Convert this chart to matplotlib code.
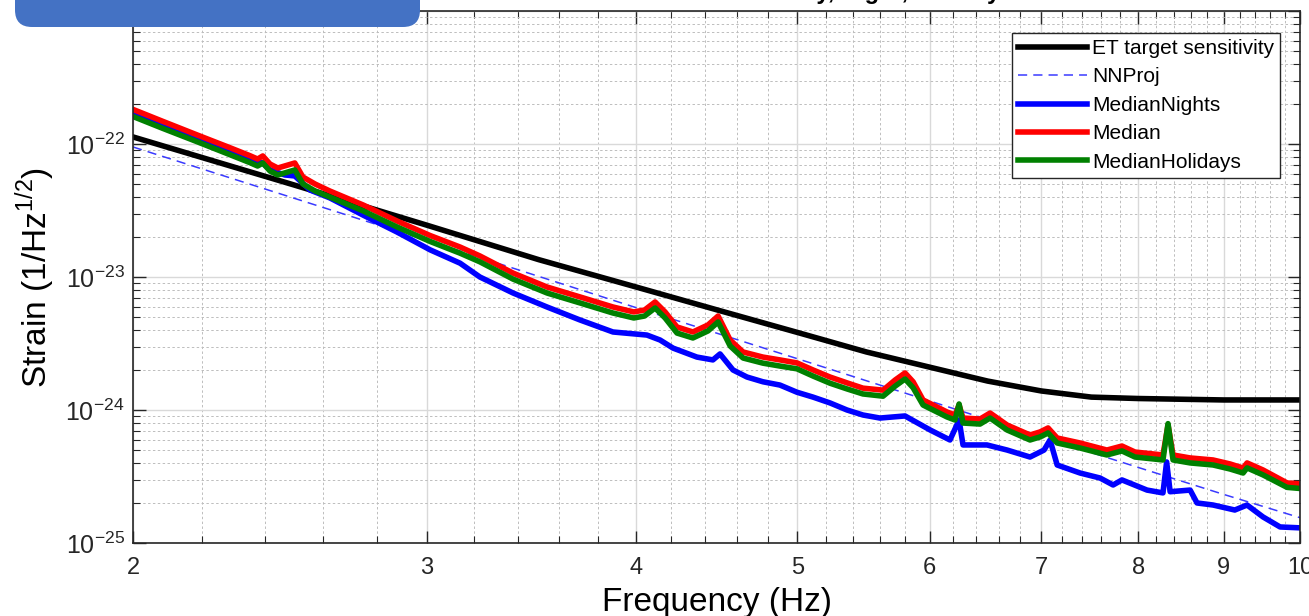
import numpy as np
import matplotlib
matplotlib.use('Agg')
import matplotlib.pyplot as plt
from matplotlib.patches import FancyBboxPatch
from matplotlib.transforms import IdentityTransform
from matplotlib.ticker import FixedLocator, NullFormatter, LogLocator, FuncFormatter

''' Data read from the figure '''
#ET target sensitivity curve
freq_et = [2.0, 2.5, 3.0, 3.5, 4.0, 4.5, 5.0, 5.5, 6.0, 6.5, 7.0, 7.5, 8.0, 9.0, 10.0]
et_target = [1.13e-22, 4.9e-23, 2.45e-23, 1.35e-23, 8.43e-24, 5.55e-24, 3.83e-24, 2.73e-24,
             2.10e-24, 1.65e-24, 1.39e-24, 1.25e-24, 1.22e-24, 1.19e-24, 1.19e-24]

#Newtonian noise projection
freq_nn = [2.0, 3.0, 4.0, 5.0, 6.0, 7.0, 8.0, 9.0, 10.0]
nn_proj = [9.5e-23, 1.88e-23, 5.9e-24, 2.43e-24, 1.17e-24, 6.3e-25, 3.7e-25, 2.32e-25, 1.55e-25]

#Median (all data) and median over holidays share the same frequency points
freq_med = [2.000, 2.084, 2.185, 2.286, 2.350, 2.375, 2.392, 2.416, 2.442, 2.500, 2.528,
            2.571, 2.624, 2.747, 2.878, 3.013, 3.140, 3.227, 3.378, 3.540, 3.705, 3.877,
            3.990, 4.050, 4.109, 4.166, 4.235, 4.329, 4.420, 4.482, 4.557, 4.639, 4.768,
            4.881, 4.997, 5.109, 5.230, 5.354, 5.473, 5.627, 5.721, 5.800, 5.865, 5.946,
            6.146, 6.214, 6.249, 6.283, 6.432, 6.522, 6.677, 6.891, 6.987, 7.065, 7.154,
            7.383, 7.662, 7.823, 7.965, 8.278, 8.336, 8.394, 8.594, 8.870, 9.080, 9.245,
            9.296, 9.503, 9.823, 10.00]
median = [1.82e-22, 1.48e-22, 1.17e-22, 9.38e-23, 8.17e-23, 7.71e-23, 8.13e-23, 7.07e-23,
          6.60e-23, 7.20e-23, 5.65e-23, 5.00e-23, 4.43e-23, 3.48e-23, 2.64e-23, 2.05e-23,
          1.68e-23, 1.44e-23, 1.07e-23, 8.41e-24, 7.08e-24, 5.95e-24, 5.46e-24, 5.65e-24,
          6.49e-24, 5.46e-24, 4.21e-24, 3.86e-24, 4.36e-24, 5.09e-24, 3.36e-24, 2.73e-24,
          2.50e-24, 2.38e-24, 2.26e-24, 2.00e-24, 1.77e-24, 1.60e-24, 1.46e-24, 1.41e-24,
          1.68e-24, 1.90e-24, 1.63e-24, 1.19e-24, 9.66e-25, 9.17e-25, 1.09e-24, 8.70e-25,
          8.55e-25, 9.49e-25, 7.71e-25, 6.49e-25, 6.84e-25, 7.33e-25, 6.16e-25, 5.65e-25,
          5.00e-25, 5.36e-25, 4.83e-25, 4.59e-25, 7.70e-25, 4.59e-25, 4.36e-25, 4.21e-25,
          3.93e-25, 3.66e-25, 4.00e-25, 3.54e-25, 2.83e-25, 2.78e-25]
median_holidays = [1.61e-22, 1.31e-22, 1.04e-22, 8.31e-23, 7.24e-23, 6.83e-23, 7.20e-23, 6.26e-23,
                   5.85e-23, 6.38e-23, 5.01e-23, 4.43e-23, 3.99e-23, 3.14e-23, 2.38e-23, 1.85e-23,
                   1.51e-23, 1.30e-23, 9.64e-24, 7.58e-24, 6.38e-24, 5.36e-24, 4.92e-24, 5.09e-24,
                   5.85e-24, 4.92e-24, 3.79e-24, 3.48e-24, 3.93e-24, 4.59e-24, 3.03e-24, 2.46e-24,
                   2.25e-24, 2.14e-24, 2.04e-24, 1.80e-24, 1.59e-24, 1.44e-24, 1.32e-24, 1.27e-24,
                   1.51e-24, 1.71e-24, 1.47e-24, 1.09e-24, 8.86e-25, 8.41e-25, 1.11e-24, 7.98e-25,
                   7.84e-25, 8.70e-25, 7.07e-25, 5.95e-25, 6.27e-25, 6.72e-25, 5.65e-25, 5.18e-25,
                   4.59e-25, 4.92e-25, 4.43e-25, 4.21e-25, 7.90e-25, 4.21e-25, 4.00e-25, 3.86e-25,
                   3.60e-25, 3.36e-25, 3.67e-25, 3.25e-25, 2.62e-25, 2.57e-25]

#Median over nights
freq_night = [2.000, 2.084, 2.185, 2.286, 2.350, 2.392, 2.416, 2.466, 2.500, 2.553, 2.624,
              2.747, 2.878, 3.013, 3.140, 3.227, 3.378, 3.540, 3.705, 3.877, 4.063, 4.137,
              4.212, 4.353, 4.450, 4.494, 4.575, 4.664, 4.768, 4.881, 4.997, 5.109, 5.230,
              5.354, 5.473, 5.603, 5.800, 6.004, 6.171, 6.249, 6.283, 6.494, 6.677, 6.891,
              7.026, 7.084, 7.154, 7.383, 7.590, 7.728, 7.823, 8.098, 8.278, 8.320, 8.360,
              8.594, 8.676, 8.870, 9.140, 9.296, 9.503, 9.729, 10.00]
median_nights = [1.71e-22, 1.365e-22, 1.11e-22, 8.71e-23, 7.59e-23, 7.20e-23, 6.38e-23, 5.85e-23,
                 5.75e-23, 4.51e-23, 3.93e-23, 2.92e-23, 2.18e-23, 1.60e-23, 1.27e-23, 1.00e-23,
                 7.58e-24, 5.95e-24, 4.75e-24, 3.86e-24, 3.66e-24, 3.36e-24, 2.92e-24, 2.50e-24,
                 2.38e-24, 2.64e-24, 2.00e-24, 1.77e-24, 1.63e-24, 1.54e-24, 1.36e-24, 1.25e-24,
                 1.13e-24, 1.00e-24, 9.17e-25, 8.70e-25, 9.02e-25, 7.08e-25, 5.95e-25, 8.41e-25,
                 5.46e-25, 5.46e-25, 5.00e-25, 4.43e-25, 5.00e-25, 5.95e-25, 3.86e-25, 3.36e-25,
                 3.08e-25, 2.73e-25, 2.98e-25, 2.50e-25, 2.38e-25, 4.07e-25, 2.43e-25, 2.50e-25,
                 2.00e-25, 1.93e-25, 1.77e-25, 1.93e-25, 1.57e-25, 1.32e-25, 1.30e-25]

x_ticks = [2, 3, 4, 5, 6, 7, 8, 9, 10]


''' Plotting '''
plt.rcParams.update({'font.family': 'Liberation Sans', 'font.size': 16})

W, H = 1309, 616
fig = plt.figure(figsize=(W/100, H/100), dpi=100)
ax = fig.add_axes([133/W, 73/H, 1167/W, 532/H])

ax.loglog(freq_et, et_target, color='k', lw=4.0, label='ET target sensitivity')
ax.loglog(freq_nn, nn_proj, color='#3a3aff', lw=1.1, ls=(0, (6, 4)), label='NNProj')
ax.loglog(freq_night, median_nights, color='#0000ff', lw=4.0, label='MedianNights')
ax.loglog(freq_med, median, color='#ff0000', lw=4.0, label='Median')
ax.loglog(freq_med, median_holidays, color='#008000', lw=4.0, label='MedianHolidays')

ax.set_xlim(2, 10)
ax.set_ylim(1e-25, 1e-21)

#MATLAB style ticks
def ylab(v, p):
    e = int(round(np.log10(v)))
    #the 1e-21 label sits under the overlay box in the screenshot
    if e > -22:
        return ''
    return r'$\mathregular{10^{%d}}$' % e

ax.xaxis.set_major_locator(FixedLocator(x_ticks))
ax.xaxis.set_major_formatter(FuncFormatter(lambda v, p: '%d' % round(v)))
minor_x = [m for m in np.arange(2.2, 10, 0.2) if abs(m - round(m)) > 1e-6]
ax.xaxis.set_minor_locator(FixedLocator(minor_x))
ax.xaxis.set_minor_formatter(NullFormatter())
ax.yaxis.set_major_locator(LogLocator(base=10))
ax.yaxis.set_major_formatter(FuncFormatter(ylab))
ax.yaxis.set_minor_locator(LogLocator(base=10, subs=np.arange(2, 10)))
ax.yaxis.set_minor_formatter(NullFormatter())

ax.tick_params(which='both', direction='in', top=True, right=True, colors='#262626')
ax.tick_params(which='major', length=9, width=1.0)
ax.tick_params(axis='x', which='major', pad=10, labelsize=17)
ax.tick_params(axis='y', which='major', pad=6, labelsize=18)
ax.tick_params(which='minor', length=5, width=0.8)
for s in ax.spines.values():
    s.set_color('#262626')
    s.set_linewidth(1.2)

ax.grid(which='major', color='#d9d9d9', ls='-', lw=1.0)
ax.grid(which='minor', color='#bdbdbd', ls=(0, (2.5, 2.5)), lw=0.7)
ax.set_axisbelow(True)

ax.set_xlabel('Frequency (Hz)', fontsize=24, labelpad=6)
ax.set_ylabel(r'Strain (1/Hz$^{\mathregular{1/2}}$)', fontsize=24, labelpad=6)

leg = ax.legend(loc='upper right', bbox_to_anchor=(0.983, 0.959), borderaxespad=0,
                fontsize=15, handlelength=3.3, handletextpad=0.25, labelspacing=0.45,
                borderpad=0.3, fancybox=False, framealpha=1, edgecolor='#262626')
leg.get_frame().set_linewidth(1.0)

#Title, cut off at the top of the screenshot
fig.text(1000/W, 1 + 1/H, 'Median: Day, Night, Holiday', ha='right', va='baseline',
         fontsize=17, fontweight='bold')

#Blue rounded box overlaying the top left corner
box = FancyBboxPatch((15, H - 27), 405, 60, boxstyle='round,pad=0,rounding_size=17',
                     facecolor='#4472c4', edgecolor='none', transform=IdentityTransform(),
                     zorder=10)
fig.patches.append(box)

plt.savefig('out.png', dpi=100)
